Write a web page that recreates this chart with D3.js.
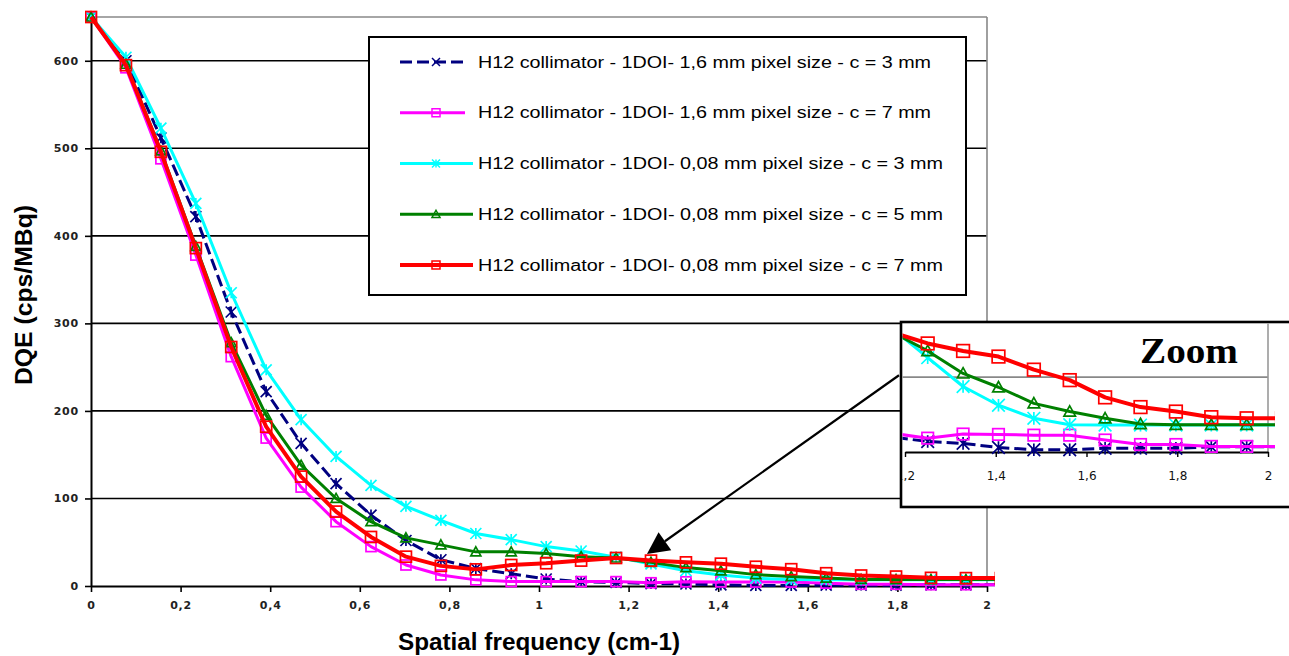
<!DOCTYPE html>
<html><head><meta charset="utf-8">
<script src="https://cdn.jsdelivr.net/npm/d3@7/dist/d3.min.js"></script>
<style>html,body{margin:0;padding:0;background:#fff;} svg{display:block;}</style>
</head><body>
<svg id="chart" width="1289" height="656"></svg>
<script>
// ---- data ----
const frequencies = [0, 0.078, 0.156, 0.234, 0.313, 0.391, 0.469, 0.547, 0.625, 0.703, 0.781, 0.859, 0.938, 1.016, 1.094, 1.172, 1.25, 1.328, 1.406, 1.484, 1.563, 1.641, 1.719, 1.797, 1.875, 1.953, 2.031];
const px16c3 = [650, 600, 512, 422, 313, 222, 163, 117, 81, 52, 30, 20, 14, 8, 5, 4, 2.8, 2.3, 1.2, 0.6, 0.6, 1, 1, 1, 1.4, 1.4, 1.4];
const px16c7 = [650, 592, 488, 378, 262, 169, 113, 73.5, 45, 24, 12.6, 7, 5, 5, 5, 5, 3.7, 4.8, 4.7, 4.5, 4.5, 3.2, 2, 2, 1.5, 1.5, 1.5];
const px008c3 = [650, 604, 523, 437, 335, 247, 190, 148, 115, 91, 75, 60, 53, 45, 40, 33, 25.2, 17.5, 12.5, 9, 7.3, 7.2, 7.2, 7.2, 7.2, 7.2, 7.2];
const px008c5 = [650, 596, 497, 388, 278, 195, 138, 100, 73.5, 55, 47, 39, 39, 37, 33.5, 32, 27, 21, 17.3, 13, 10.8, 9, 7.5, 7.3, 7.3, 7.3, 7.3];
const px008c7 = [650, 595, 496, 386, 273, 182, 125, 85, 56, 33.5, 23, 19, 24, 26, 29, 32, 29, 27, 25.5, 22, 19.2, 14.6, 12, 10.8, 9.3, 9, 9];
const seriesNames = [
  "H12 collimator - 1DOI-  1,6 mm pixel size - c = 3 mm",
  "H12 collimator - 1DOI-  1,6 mm pixel size - c = 7 mm",
  "H12 collimator - 1DOI-  0,08 mm pixel size - c = 3 mm",
  "H12 collimator - 1DOI-  0,08 mm pixel size - c = 5 mm",
  "H12 collimator - 1DOI-  0,08 mm pixel size - c = 7 mm"
];
const yTicks = [0, 100, 200, 300, 400, 500, 600];
const xTicks = [0, 0.2, 0.4, 0.6, 0.8, 1, 1.2, 1.4, 1.6, 1.8, 2];
const xTickLabels = ["0", "0,2", "0,4", "0,6", "0,8", "1", "1,2", "1,4", "1,6", "1,8", "2"];
const insetXTicks = [1.2, 1.4, 1.6, 1.8, 2];
const insetXTickLabels = ["1,2", "1,4", "1,6", "1,8", "2"];
const xTitle = "Spatial frequency (cm-1)";
const yTitle = "DQE (cps/MBq)";
const insetTitle = "Zoom";
const arrowTarget = {x: 1.241, y: 36.6};

// ---- styles ----
const styles = [
  {color: "#000080", width: 3, dash: "12,5", marker: "star", ms: 5.5, legEnd: 465, textEnd: 931},
  {color: "#ff00ff", width: 3, dash: null, marker: "square", ms: 5, legEnd: 465, textEnd: 931},
  {color: "#00ffff", width: 3, dash: null, marker: "star", ms: 5.5, legEnd: 473, textEnd: 943},
  {color: "#008000", width: 3, dash: null, marker: "triangle", ms: 5, legEnd: 473, textEnd: 943},
  {color: "#ff0000", width: 4, dash: null, marker: "square", ms: 5.5, legEnd: 473, textEnd: 943}
];
const seriesValues = [px16c3, px16c7, px008c3, px008c5, px008c7];
const series = seriesValues.map((vals, k) => ({
  name: seriesNames[k], style: styles[k],
  points: vals.map((v, i) => ({x: frequencies[i], y: v}))
}));

const svg = d3.select("#chart");
svg.append("rect").attr("width", 1289).attr("height", 656).attr("fill", "#fff");
const defs = svg.append("defs");
defs.append("clipPath").attr("id", "mainClip").append("rect")
  .attr("x", 85).attr("y", 5).attr("width", 910).attr("height", 595);
defs.append("clipPath").attr("id", "insetClip").append("rect")
  .attr("x", 902.5).attr("y", 323.5).attr("width", 372.5).attr("height", 182);
defs.append("clipPath").attr("id", "insetBoxClip").append("rect")
  .attr("x", 902.5).attr("y", 323.5).attr("width", 390).attr("height", 182);

const x = d3.scaleLinear().domain([0, 2]).range([91, 987]);
const y = d3.scaleLinear().domain([0, 650]).range([586, 17]);

function drawMarker(g, type, cx, cy, s, color, sw) {
  if (type === "star") {
    g.append("path").attr("d",
      `M${cx - s},${cy - s}L${cx + s},${cy + s}M${cx - s},${cy + s}L${cx + s},${cy - s}M${cx},${cy - s}L${cx},${cy + s}`)
      .attr("stroke", color).attr("stroke-width", sw).attr("fill", "none");
  } else if (type === "xmark") {
    g.append("path").attr("d",
      `M${cx - s},${cy - s}L${cx + s},${cy + s}M${cx - s},${cy + s}L${cx + s},${cy - s}`)
      .attr("stroke", color).attr("stroke-width", sw).attr("fill", "none");
  } else if (type === "square") {
    g.append("rect").attr("x", cx - s).attr("y", cy - s).attr("width", 2 * s).attr("height", 2 * s)
      .attr("stroke", color).attr("stroke-width", sw).attr("fill", "none");
  } else if (type === "triangle") {
    g.append("path").attr("d", `M${cx},${cy - s}L${cx + s},${cy + s * 0.8}L${cx - s},${cy + s * 0.8}Z`)
      .attr("stroke", color).attr("stroke-width", sw).attr("fill", "none");
  }
}

function drawSeries(g, xs, ys, scaleM) {
  series.forEach(s => {
    const line = d3.line().x(d => xs(d.x)).y(d => ys(d.y));
    const p = g.append("path").datum(s.points).attr("d", line)
      .attr("fill", "none").attr("stroke", s.style.color)
      .attr("stroke-width", s.style.width).attr("stroke-linejoin", "round");
    if (s.style.dash) p.attr("stroke-dasharray", s.style.dash);
    const mg = g.append("g");
    s.points.forEach(d => drawMarker(mg, s.style.marker, xs(d.x), ys(d.y), s.style.ms * scaleM, s.style.color, 1.7));
  });
}

// ---- main grid ----
const grid = svg.append("g");
yTicks.filter(t => t > 0).forEach(t => {
  grid.append("line").attr("x1", 91).attr("x2", 987).attr("y1", y(t)).attr("y2", y(t))
    .attr("stroke", "#000").attr("stroke-width", 1.6);
});
grid.append("line").attr("x1", 91).attr("x2", 987).attr("y1", y(650)).attr("y2", y(650))
  .attr("stroke", "#888").attr("stroke-width", 1.6);
grid.append("line").attr("x1", 987).attr("x2", 987).attr("y1", y(650)).attr("y2", y(0))
  .attr("stroke", "#888").attr("stroke-width", 1.6);

// ---- axes ----
const tickFont = {family: "DejaVu Sans", size: 11, weight: "bold"};
const yAxis = svg.append("g").attr("transform", "translate(91,0)")
  .call(d3.axisLeft(y).tickValues(yTicks).tickSize(6).tickSizeOuter(0).tickFormat(d3.format("d")));
yAxis.select(".domain").attr("stroke", "#000").attr("stroke-width", 2);
yAxis.selectAll(".tick line").attr("stroke", "#000").attr("stroke-width", 1.6);
yAxis.selectAll(".tick text").attr("x", -12).attr("font-family", tickFont.family).attr("font-size", tickFont.size)
  .attr("font-weight", tickFont.weight).attr("letter-spacing", 0.8).attr("fill", "#222");

const xAxis = svg.append("g").attr("transform", "translate(0,586)")
  .call(d3.axisBottom(x).tickValues(xTicks).tickSize(6).tickSizeOuter(0)
    .tickFormat((d, i) => xTickLabels[i]));
xAxis.select(".domain").attr("stroke", "#000").attr("stroke-width", 2);
xAxis.selectAll(".tick line").attr("stroke", "#000").attr("stroke-width", 1.6);
xAxis.selectAll(".tick text").attr("y", 15).attr("font-family", tickFont.family).attr("font-size", tickFont.size)
  .attr("font-weight", tickFont.weight).attr("letter-spacing", 0.8).attr("fill", "#222");

// titles
svg.append("text").attr("x", 539).attr("y", 650).attr("text-anchor", "middle")
  .attr("font-family", "Liberation Sans, Arial, sans-serif").attr("font-weight", "bold").attr("font-size", 24)
  .attr("textLength", 282).attr("lengthAdjust", "spacingAndGlyphs").text(xTitle);
svg.append("text").attr("transform", "translate(32,295) rotate(-90)").attr("text-anchor", "middle")
  .attr("font-family", "Liberation Sans, Arial, sans-serif").attr("font-weight", "bold").attr("font-size", 24)
  .attr("textLength", 180).attr("lengthAdjust", "spacingAndGlyphs").text(yTitle);

// ---- series (main) ----
const mainG = svg.append("g").attr("clip-path", "url(#mainClip)");
drawSeries(mainG, x, y, 1);

// ---- legend ----
const leg = svg.append("g");
leg.append("rect").attr("x", 369).attr("y", 37).attr("width", 597).attr("height", 258)
  .attr("fill", "#fff").attr("stroke", "#000").attr("stroke-width", 2);
const legY = d3.scalePoint().domain(d3.range(series.length)).range([62, 265]);
series.forEach((s, k) => {
  const cy = legY(k);
  const l = leg.append("line").attr("x1", 400).attr("x2", s.style.legEnd).attr("y1", cy).attr("y2", cy)
    .attr("stroke", s.style.color).attr("stroke-width", s.style.width);
  if (s.style.dash) l.attr("stroke-dasharray", s.style.dash).attr("stroke-dashoffset", 0);
  const mType = k === 0 ? "xmark" : s.style.marker;
  drawMarker(leg, mType, 436, cy, 4, s.style.color, 1.5);
  leg.append("text").attr("x", 478).attr("y", cy + 5.5).attr("font-family", "Liberation Sans, Arial, sans-serif")
    .attr("font-size", 16).attr("fill", "#000")
    .attr("textLength", s.style.textEnd - 478).attr("lengthAdjust", "spacingAndGlyphs").text(s.name);
});

// ---- inset ----
const ix = d3.scaleLinear().domain([1.2, 2]).range([905, 1268]);
const iy = d3.scaleLinear().domain([0, 35]).range([452, 321]);
const inset = svg.append("g");
inset.append("rect").attr("x", 901).attr("y", 322).attr("width", 420).attr("height", 185)
  .attr("fill", "#fff").attr("stroke", "#000").attr("stroke-width", 2.6);
const ig = inset.append("g").attr("clip-path", "url(#insetBoxClip)");
ig.append("line").attr("x1", 902).attr("x2", ix(2)).attr("y1", iy(20)).attr("y2", iy(20))
  .attr("stroke", "#888").attr("stroke-width", 1.6);
ig.append("line").attr("x1", ix(2)).attr("x2", ix(2)).attr("y1", 322).attr("y2", iy(0))
  .attr("stroke", "#999").attr("stroke-width", 1.6);
const ixAxis = ig.append("g").attr("transform", `translate(0,${iy(0)})`)
  .call(d3.axisBottom(ix).tickValues(insetXTicks).tickSize(5).tickSizeOuter(0)
    .tickFormat((d, i) => insetXTickLabels[i]));
ixAxis.select(".domain").attr("stroke", "#000").attr("stroke-width", 1.8);
ixAxis.selectAll(".tick line").attr("stroke", "#000").attr("stroke-width", 1.4);
ixAxis.selectAll(".tick text").attr("y", 19).attr("font-family", "DejaVu Sans").attr("font-size", 12)
  .attr("fill", "#111");
ig.append("text").attr("x", 1140).attr("y", 363).attr("font-family", "Liberation Serif, Times New Roman, serif")
  .attr("font-weight", "bold").attr("font-size", 36).attr("textLength", 98)
  .attr("lengthAdjust", "spacingAndGlyphs").text(insetTitle);
const isg = inset.append("g").attr("clip-path", "url(#insetClip)");
drawSeries(isg, ix, iy, 1.15);

// ---- arrow ----
const start = [899, iy(20.5)];
const tip = [x(arrowTarget.x), y(arrowTarget.y)];
const dx = tip[0] - start[0], dy = tip[1] - start[1], len = Math.hypot(dx, dy);
const ux = dx / len, uy = dy / len;
const base = [tip[0] - 22 * ux, tip[1] - 22 * uy];
svg.append("line").attr("x1", start[0]).attr("y1", start[1]).attr("x2", base[0]).attr("y2", base[1])
  .attr("stroke", "#000").attr("stroke-width", 2.2);
svg.append("path").attr("d",
  `M${tip[0]},${tip[1]}L${base[0] - 11 * uy},${base[1] + 11 * ux}L${base[0] + 11 * uy},${base[1] - 11 * ux}Z`)
  .attr("fill", "#000");
</script>
</body></html>
